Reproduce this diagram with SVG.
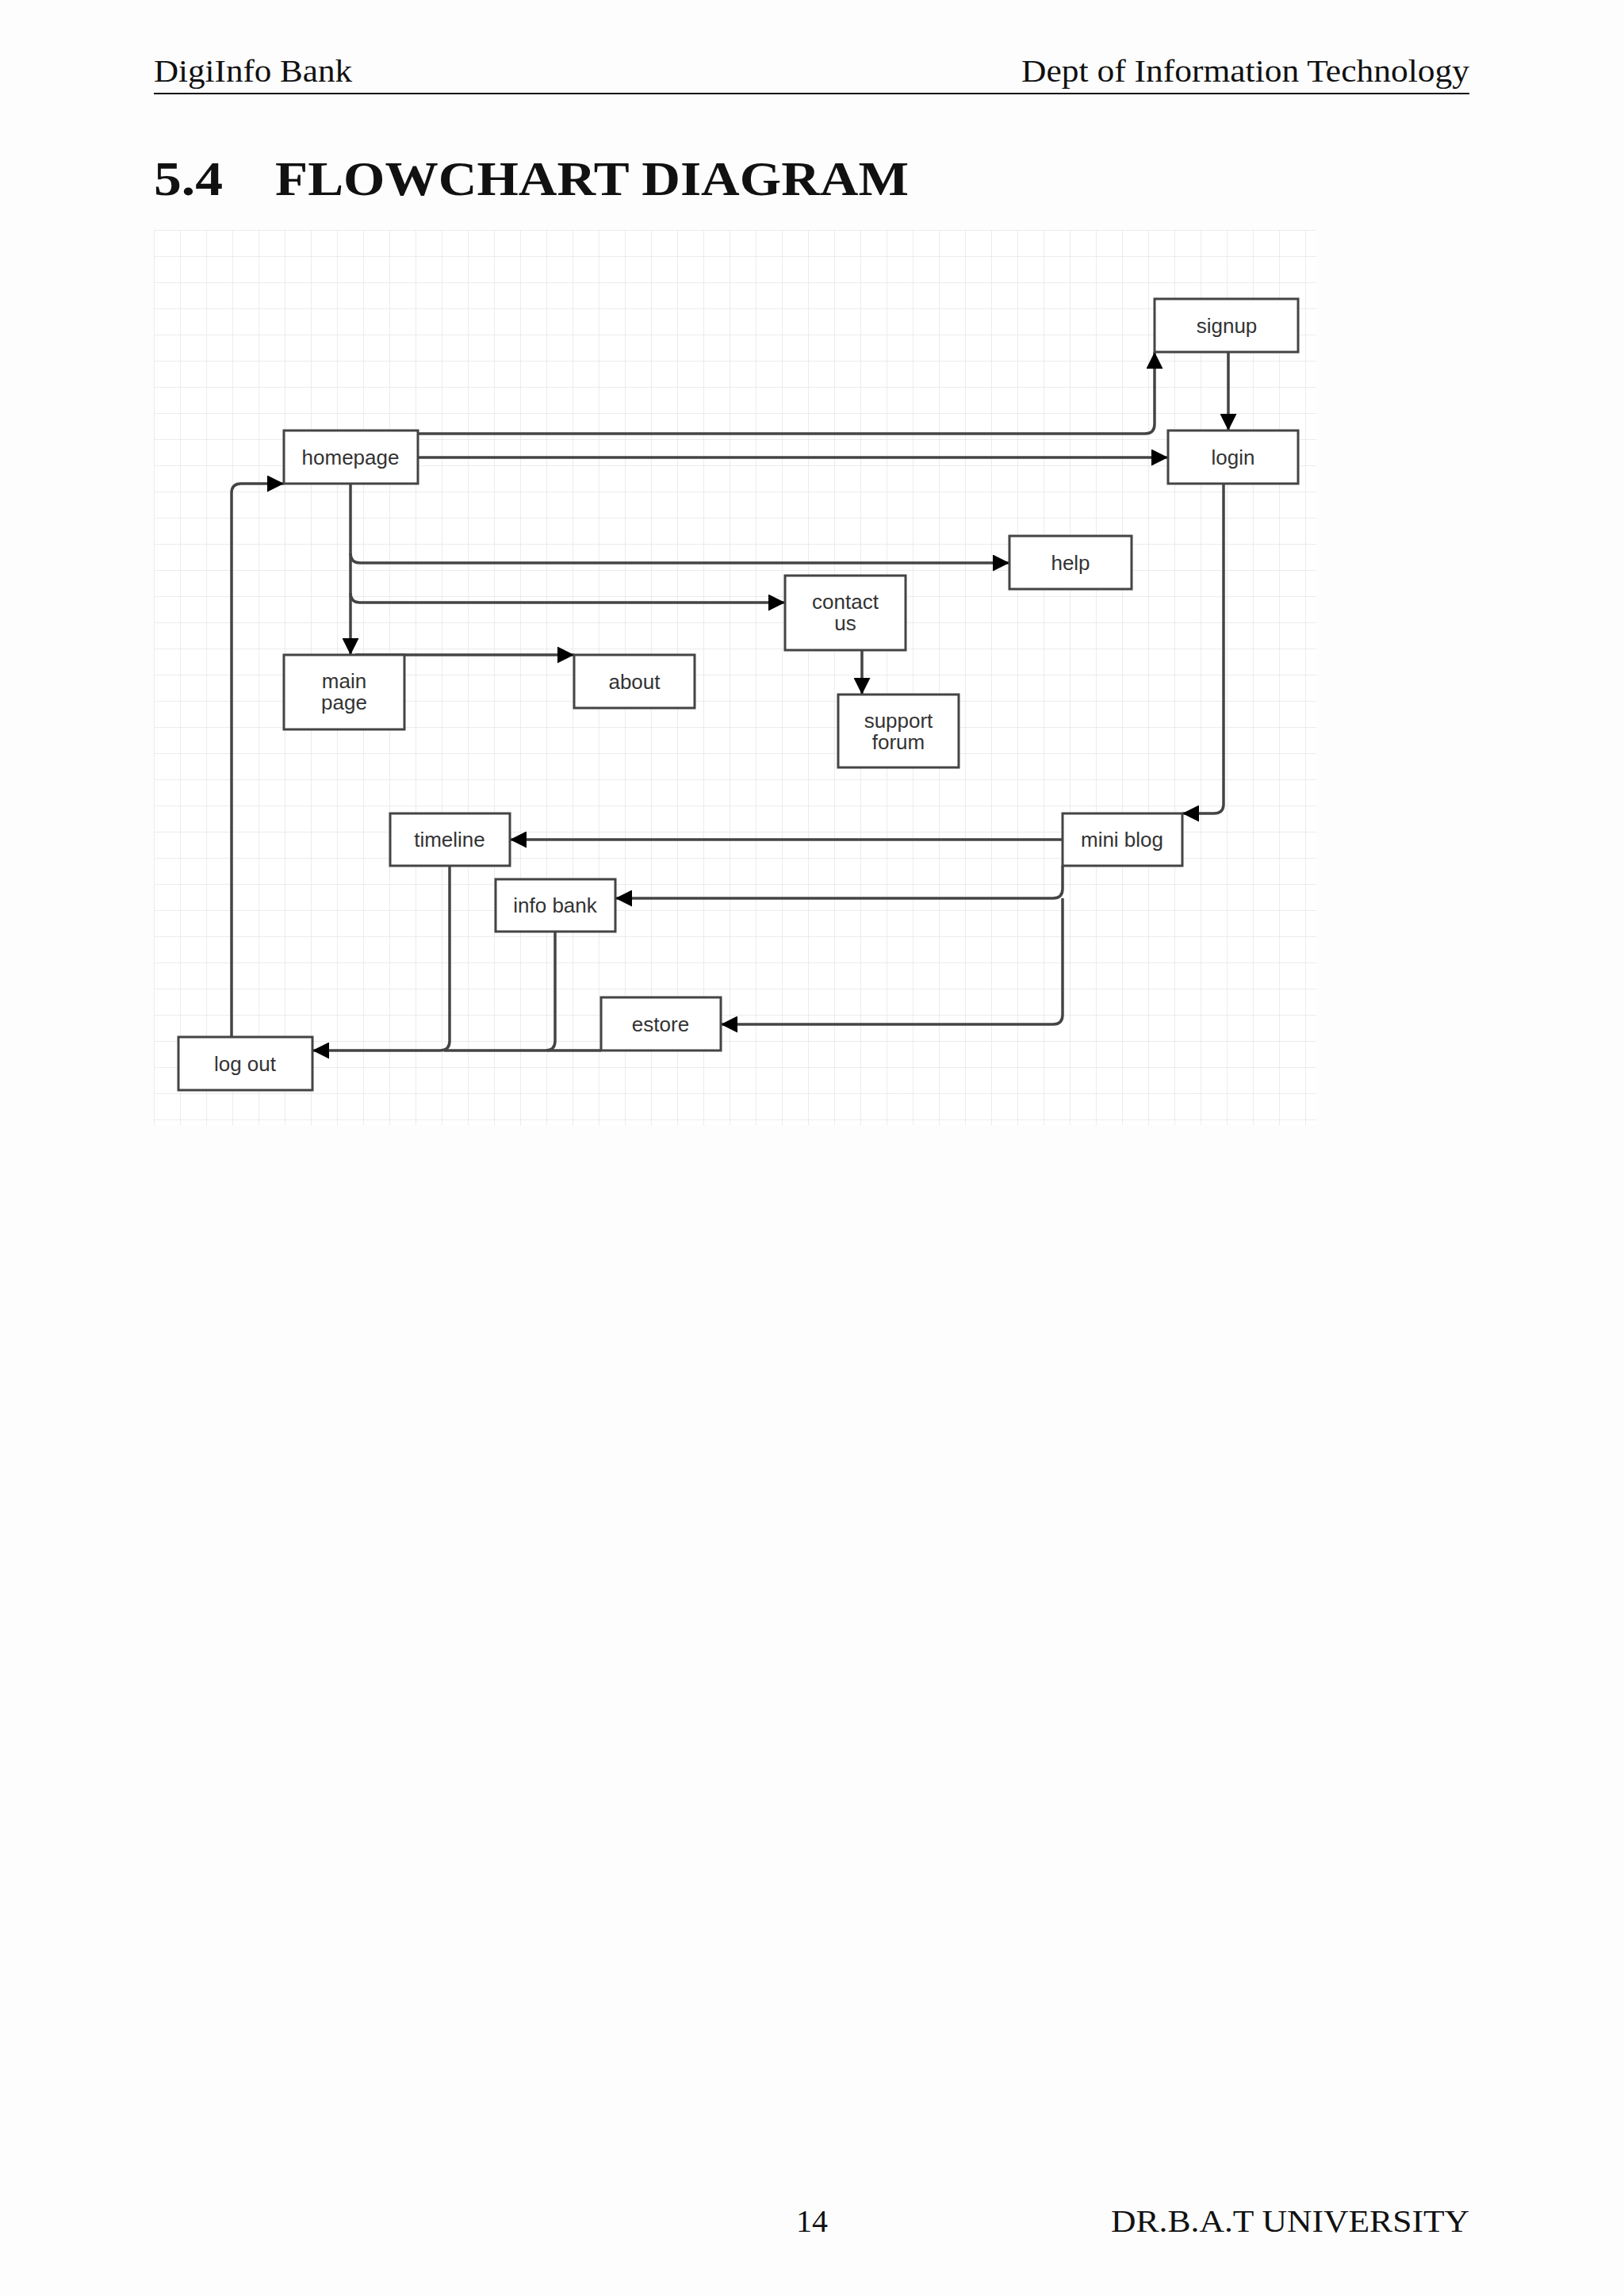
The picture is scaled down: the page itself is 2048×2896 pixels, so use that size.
<svg xmlns="http://www.w3.org/2000/svg" width="2048" height="2896" viewBox="0 0 2048 2896">
<defs>
<style>
.hdr{font-family:"Liberation Serif",serif;font-size:40px;fill:#111}
.ttl{font-family:"Liberation Serif",serif;font-size:62px;font-weight:bold;fill:#111}
.box{fill:#fff;stroke:#444;stroke-width:3}
.lbl{font-family:"Liberation Sans",Arial,sans-serif;font-size:26px;fill:#333;text-anchor:middle}
.con{fill:none;stroke:#444;stroke-width:3.5}
</style>
<pattern id="grid" width="33" height="33" patternUnits="userSpaceOnUse" x="194" y="290">
<path d="M0 0H33M0 0V33" fill="none" stroke="#e6e6e6" stroke-width="1.5"/>
</pattern>
<marker id="a" viewBox="0 0 10 10" refX="10" refY="5" markerWidth="6" markerHeight="6" orient="auto">
<path d="M0 0L10 5L0 10z" fill="#000"/>
</marker>
</defs>
<rect width="2048" height="2896" fill="#fdfdfd"/>
<text class="hdr" x="194" y="103" textLength="250" lengthAdjust="spacingAndGlyphs">DigiInfo Bank</text>
<text class="hdr" x="1288" y="103" textLength="565" lengthAdjust="spacingAndGlyphs">Dept of Information Technology</text>
<line x1="194" y1="118" x2="1853" y2="118" stroke="#111" stroke-width="2"/>
<text class="ttl" x="194" y="246" textLength="87" lengthAdjust="spacingAndGlyphs">5.4</text>
<text class="ttl" x="347" y="246" textLength="799" lengthAdjust="spacingAndGlyphs">FLOWCHART DIAGRAM</text>
<rect x="194" y="290" width="1466" height="1129" fill="#fff"/>
<rect x="194" y="290" width="1466" height="1129" fill="url(#grid)"/>
<g id="connectors">
<path class="con" d="M527 547H1444Q1456 547 1456 535V444" marker-end="url(#a)"/>
<path class="con" d="M527 577H1473" marker-end="url(#a)"/>
<path class="con" d="M1549 444V543" marker-end="url(#a)"/>
<path class="con" d="M442 610V826" marker-end="url(#a)"/>
<path class="con" d="M442 698Q442 710 454 710H1273" marker-end="url(#a)"/>
<path class="con" d="M442 748Q442 760 454 760H990" marker-end="url(#a)"/>
<path class="con" d="M448 826H724" marker-end="url(#a)"/>
<path class="con" d="M1087 820V876" marker-end="url(#a)"/>
<path class="con" d="M1543 610V1014Q1543 1026 1531 1026H1491" marker-end="url(#a)"/>
<path class="con" d="M1340 1059H643" marker-end="url(#a)"/>
<path class="con" d="M1340 1092V1121Q1340 1133 1328 1133H776" marker-end="url(#a)"/>
<path class="con" d="M1340 1133V1280Q1340 1292 1328 1292H909" marker-end="url(#a)"/>
<path class="con" d="M567 1092V1313Q567 1325 555 1325H394" marker-end="url(#a)"/>
<path class="con" d="M700 1175V1313Q700 1325 688 1325H560"/>
<path class="con" d="M758 1325H690"/>
<path class="con" d="M292 1308V622Q292 610 304 610H358" marker-end="url(#a)"/>
</g>
<g id="signup"><rect class="box" x="1456" y="377" width="181" height="67"/><text class="lbl" x="1547" y="420">signup</text></g>
<g id="login"><rect class="box" x="1473" y="543" width="164" height="67"/><text class="lbl" x="1555" y="586">login</text></g>
<g id="homepage"><rect class="box" x="358" y="543" width="169" height="67"/><text class="lbl" x="442" y="586">homepage</text></g>
<g id="help"><rect class="box" x="1273" y="676" width="154" height="67"/><text class="lbl" x="1350" y="719">help</text></g>
<g id="contact"><rect class="box" x="990" y="726" width="152" height="94"/><text class="lbl" x="1066" y="768">contact</text><text class="lbl" x="1066" y="795">us</text></g>
<g id="mainpage"><rect class="box" x="358" y="826" width="152" height="94"/><text class="lbl" x="434" y="868">main</text><text class="lbl" x="434" y="895">page</text></g>
<g id="about"><rect class="box" x="724" y="826" width="152" height="67"/><text class="lbl" x="800" y="869">about</text></g>
<g id="support"><rect class="box" x="1057" y="876" width="152" height="92"/><text class="lbl" x="1133" y="918">support</text><text class="lbl" x="1133" y="945">forum</text></g>
<g id="timeline"><rect class="box" x="492" y="1026" width="151" height="66"/><text class="lbl" x="567" y="1068">timeline</text></g>
<g id="miniblog"><rect class="box" x="1340" y="1026" width="151" height="66"/><text class="lbl" x="1415" y="1068">mini blog</text></g>
<g id="infobank"><rect class="box" x="625" y="1109" width="151" height="66"/><text class="lbl" x="700" y="1151">info bank</text></g>
<g id="estore"><rect class="box" x="758" y="1258" width="151" height="67"/><text class="lbl" x="833" y="1301">estore</text></g>
<g id="logout"><rect class="box" x="225" y="1308" width="169" height="67"/><text class="lbl" x="309" y="1351">log out</text></g>
<text class="hdr" x="1024" y="2815" text-anchor="middle">14</text>
<text class="hdr" x="1401" y="2815" textLength="452" lengthAdjust="spacingAndGlyphs">DR.B.A.T UNIVERSITY</text>
</svg>
